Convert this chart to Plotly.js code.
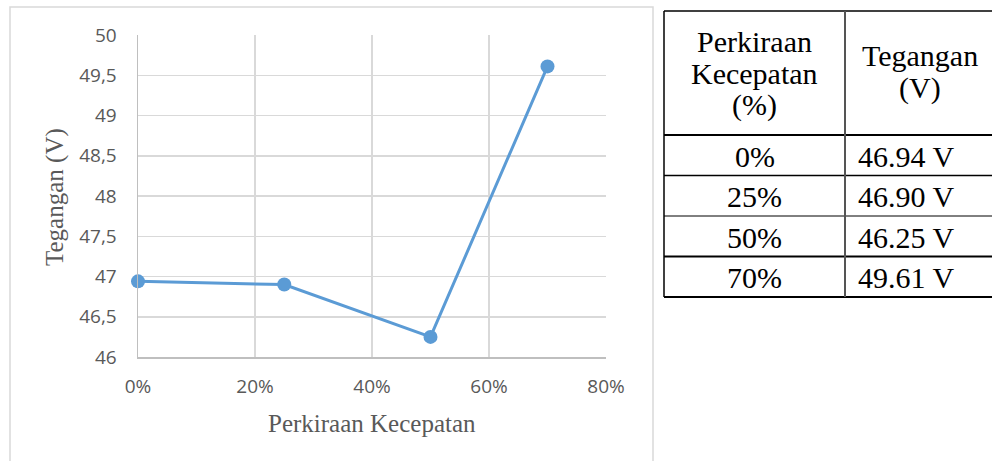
<!DOCTYPE html>
<html>
<head>
<meta charset="utf-8">
<script src="https://cdn.plot.ly/plotly-3.0.1.min.js"></script>
<style>
  html, body { margin: 0; padding: 0; background: #ffffff; }
  #chart { width: 992px; height: 461px; }
</style>
</head>
<body>
<div id="chart"></div>
<script>
// Estimated speed (fraction of full speed) and measured voltage
const speedFraction = [0, 0.25, 0.5, 0.7];
const voltage = [46.94, 46.90, 46.25, 49.61];

// Axis settings
const xTickValues = [0, 0.2, 0.4, 0.6, 0.8];
const yRange = [46, 50];

// Table header lines
const headerSpeed = ['Perkiraan', 'Kecepatan', '(%)'];
const headerVoltage = ['Tegangan', '(V)'];

const xTitle = 'Perkiraan Kecepatan';
const yTitle = 'Tegangan (V)';

// Plot area in pixels
const W = 992, H = 461;
const L = 138, R = 606, T = 35, B = 357;
const px = x => (x - L) / (R - L);
const py = y => (B - y) / (B - T);

const lineBlue = '#5B9BD5';
const tickGray = '#595959';
const gridGray = '#D9D9D9';
const serif = '"Liberation Serif", "Times New Roman", serif';

const trace = {
  x: speedFraction,
  y: voltage,
  type: 'scatter',
  mode: 'lines+markers',
  line: { color: lineBlue, width: 3 },
  marker: { color: lineBlue, size: 14 },
  hoverinfo: 'x+y',
  cliponaxis: false
};

const shapes = [];
const annotations = [];

// Outer frame of the chart
shapes.push({
  type: 'rect', xref: 'paper', yref: 'paper',
  x0: px(10), x1: px(653), y0: py(475), y1: py(7),
  line: { color: gridGray, width: 1.5 }, fillcolor: 'rgba(0,0,0,0)', layer: 'below'
});

// Axis titles
annotations.push({
  xref: 'paper', yref: 'paper', x: px(372), y: py(423),
  text: xTitle, showarrow: false, xanchor: 'center', yanchor: 'middle',
  font: { family: serif, size: 25, color: tickGray }
});
annotations.push({
  xref: 'paper', yref: 'paper', x: px(55), y: py(197),
  text: yTitle, showarrow: false, xanchor: 'center', yanchor: 'middle', textangle: -90,
  font: { family: serif, size: 25, color: tickGray }
});

// ---- Data table ----
const tLeft = 664, tMid = 845, tRight = 1000, tTop = 11, tHeadBottom = 135;
const rowH = 40.5;
const hline = (y, w) => shapes.push({
  type: 'line', xref: 'paper', yref: 'paper',
  x0: px(tLeft), x1: px(tRight), y0: py(y), y1: py(y),
  line: { color: '#000000', width: w }
});
const vline = (x, y0, y1, color, w) => shapes.push({
  type: 'line', xref: 'paper', yref: 'paper',
  x0: px(x), x1: px(x), y0: py(y0), y1: py(y1),
  line: { color: color, width: w }
});

hline(tTop, 1.5);
hline(tHeadBottom, 2);
const rowWidths = [1.5, 1, 2, 2];
speedFraction.forEach((s, i) => hline(tHeadBottom + rowH * (i + 1), rowWidths[i]));
const tBottom = tHeadBottom + rowH * speedFraction.length;
vline(tLeft, tTop, tBottom, '#000000', 1.5);
vline(tMid, tTop, tBottom, '#555555', 2);

const col1 = (tLeft + tMid) / 2;
const col2Head = 920, col2Val = 906;
const tableFont = { family: serif, size: 30, color: '#000000' };

headerSpeed.forEach((t, i) => annotations.push({
  xref: 'paper', yref: 'paper', x: px(col1), y: py(42 + i * 31.5),
  text: t, showarrow: false, xanchor: 'center', yanchor: 'middle', font: tableFont
}));
headerVoltage.forEach((t, i) => annotations.push({
  xref: 'paper', yref: 'paper', x: px(col2Head), y: py(56 + i * 32),
  text: t, showarrow: false, xanchor: 'center', yanchor: 'middle', font: tableFont
}));

speedFraction.forEach((s, i) => {
  const yc = tHeadBottom + rowH * i + rowH / 2 + 1;
  annotations.push({
    xref: 'paper', yref: 'paper', x: px(col1), y: py(yc),
    text: Math.round(s * 100) + '%', showarrow: false,
    xanchor: 'center', yanchor: 'middle', font: tableFont
  });
  annotations.push({
    xref: 'paper', yref: 'paper', x: px(col2Val), y: py(yc),
    text: voltage[i].toFixed(2) + ' V', showarrow: false,
    xanchor: 'center', yanchor: 'middle', font: tableFont
  });
});

const layout = {
  width: W, height: H,
  margin: { l: L, r: W - R, t: T, b: H - B, pad: 0 },
  paper_bgcolor: '#ffffff',
  plot_bgcolor: '#ffffff',
  separators: ',.',
  showlegend: false,
  xaxis: {
    range: [0, 0.8],
    tickvals: xTickValues,
    tickformat: '.0%',
    showgrid: true, gridcolor: gridGray, gridwidth: 1.5,
    showline: true, linecolor: '#BFBFBF', linewidth: 1.5,
    zeroline: false, ticks: '',
    ticklabelstandoff: 12,
    tickfont: { family: '"Open Sans", sans-serif', size: 19, color: tickGray },
    fixedrange: true
  },
  yaxis: {
    range: yRange,
    dtick: 0.5,
    showgrid: true, gridcolor: gridGray, gridwidth: 1.5,
    showline: true, linecolor: '#BFBFBF', linewidth: 1.5,
    zeroline: false, ticks: '',
    ticklabelstandoff: 16,
    tickfont: { family: '"Open Sans", sans-serif', size: 19, color: tickGray },
    fixedrange: true
  },
  shapes: shapes,
  annotations: annotations
};

Plotly.newPlot('chart', [trace], layout, { displayModeBar: false, staticPlot: true });
</script>
</body>
</html>
